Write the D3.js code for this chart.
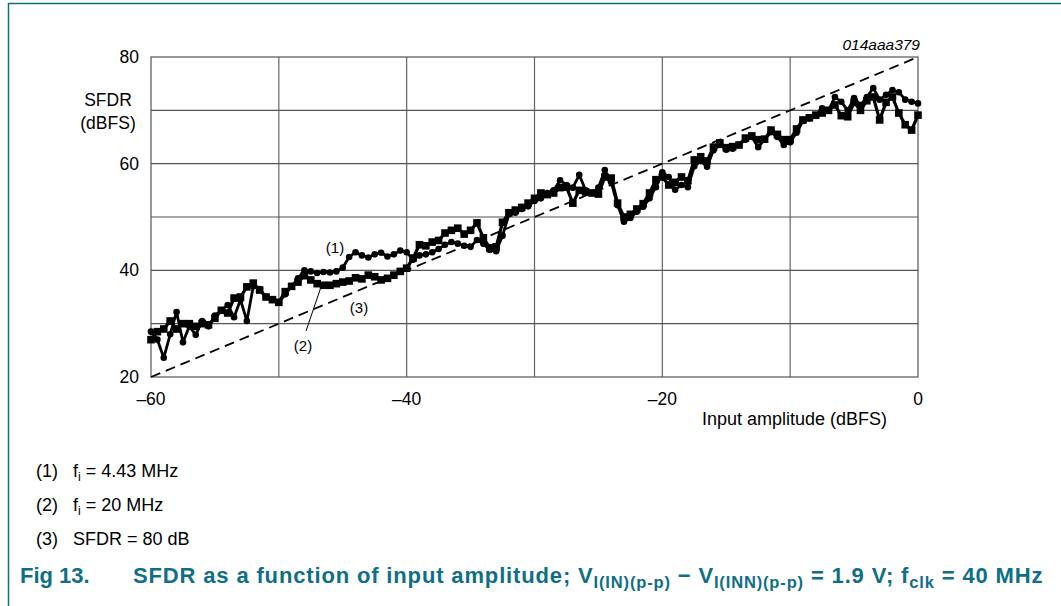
<!DOCTYPE html>
<html>
<head>
<meta charset="utf-8">
<script src="https://cdn.jsdelivr.net/npm/d3@7"></script>
<style>
  body { margin: 0; background: #fff; }
  svg text { font-family: "Liberation Sans", Arial, sans-serif; }
</style>
</head>
<body>
<div id="chart"></div>
<script>
// input amplitude (dBFS), 0.5 dB steps
var amplitude = [-60,-59.5,-59,-58.5,-58,-57.5,-57,-56.5,-56,-55.5,-55,-54.5,-54,-53.5,-53,-52.5,-52,-51.5,-51,-50.5,
  -50,-49.5,-49,-48.5,-48,-47.5,-47,-46.5,-46,-45.5,-45,-44.5,-44,-43.5,-43,-42.5,-42,-41.5,-41,-40.5,
  -40,-39.5,-39,-38.5,-38,-37.5,-37,-36.5,-36,-35.5,-35,-34.5,-34,-33.5,-33,-32.5,-32,-31.5,-31,-30.5,
  -30,-29.5,-29,-28.5,-28,-27.5,-27,-26.5,-26,-25.5,-25,-24.5,-24,-23.5,-23,-22.5,-22,-21.5,-21,-20.5,
  -20,-19.5,-19,-18.5,-18,-17.5,-17,-16.5,-16,-15.5,-15,-14.5,-14,-13.5,-13,-12.5,-12,-11.5,-11,-10.5,
  -10,-9.5,-9,-8.5,-8,-7.5,-7,-6.5,-6,-5.5,-5,-4.5,-4,-3.5,-3,-2.5,-2,-1.5,-1,-0.5,0];

// (1) fi = 4.43 MHz
var sfdr1 = [28.5,27,23.6,28,32.2,26.5,29.5,27.9,30.5,29.5,31.5,32.5,33.5,31.2,34.5,30.5,37,36.5,35,34.5,
  34,35.5,37,38.5,40,39.8,39.5,39.7,39.6,39.8,40.5,42.5,43.4,42.8,42.4,43,43.3,42.6,43,43.7,
  43.4,42,42.8,43,43.4,44,44.8,45.3,45,44.6,44.4,45.7,45,43.8,43.6,46.5,50.5,50.8,51.5,52,
  53,53.5,54.5,55,56.9,56,55.5,57.9,55,54.5,55.5,58.8,56.5,52.2,49.1,49.8,51,51.9,53.5,55.6,
  58.4,57.5,55.1,56,55.6,59.5,60.5,59.4,62.5,63.5,62.6,62.8,63.5,64.5,65,63.1,64.5,65.9,65,63.5,
  64,65.8,68,68.5,69,70.4,70,72.5,71.6,70,72.3,71,72.5,74.2,72,72.9,73.8,73.4,72,71.6,71.3];

// (2) fi = 20 MHz
var sfdr2 = [27,28.5,29,30.5,29,30,30,29.5,30,29.8,31,32.5,32,34.8,35,36.9,37.6,36.3,35,34.5,
  34,36,37,37.8,39,38.2,37.5,37.2,37.2,37.5,37.8,38,38.6,38.4,39.1,38.8,38.2,38.5,39.1,39.8,
  40.4,42.3,44.8,44.6,45.3,45.6,47,47.5,47.9,46.8,47.5,48.9,46.1,44.2,44.4,49,50.8,51.3,51.8,52.6,
  53.5,54.5,54.2,54.5,55.5,55.6,52.6,55,54.7,54.5,54.3,57.5,57.3,52.6,50,50.5,51.5,52.5,54.5,57,
  57.5,56,56.5,57.5,56.8,60.7,61.3,60.5,63.1,63.9,63,63.2,63.5,64.8,65.2,64.5,64.6,66.3,65.5,64.5,
  64.5,66.5,68.2,68.6,69.1,69.5,70,71,69,68.8,71.5,70,71.8,72.5,68.2,71.5,72.5,69.5,67.3,66.3,69.1];

// (3) SFDR = 80 dB reference line
var refLine = [[-60, 20], [0, 80]];

var xTicks = [-60, -40, -20, 0];
var yTicks = [20, 40, 60, 80];
var xGrid = [-50, -40, -30, -20, -10];
var yGrid = [30, 40, 50, 60, 70];

var svgWidth = 1061, svgHeight = 606;
var teal = "#0f6f87";

var svg = d3.select("#chart").append("svg")
    .attr("width", svgWidth)
    .attr("height", svgHeight);

// page frame
svg.append("line").attr("x1", 8).attr("y1", 3.5).attr("x2", svgWidth).attr("y2", 3.5)
    .style("stroke", teal).style("stroke-width", 1.5);
svg.append("line").attr("x1", 8.5).attr("y1", 3).attr("x2", 8.5).attr("y2", svgHeight)
    .style("stroke", teal).style("stroke-width", 1.5);

// plot area
var x = d3.scaleLinear().domain([-60, 0]).range([151, 918]);
var y = d3.scaleLinear().domain([20, 80]).range([377, 57]);

var g = svg.append("g");

// grid
g.selectAll(".vgrid").data(xGrid).enter().append("line")
    .attr("x1", d => x(d)).attr("x2", d => x(d))
    .attr("y1", y(20)).attr("y2", y(80))
    .style("stroke", "#666").style("stroke-width", 1.2);
g.selectAll(".hgrid").data(yGrid).enter().append("line")
    .attr("x1", x(-60)).attr("x2", x(0))
    .attr("y1", d => y(d)).attr("y2", d => y(d))
    .style("stroke", "#555").style("stroke-width", 1.2);
g.append("rect")
    .attr("x", x(-60)).attr("y", y(80))
    .attr("width", x(0) - x(-60)).attr("height", y(20) - y(80))
    .style("fill", "none").style("stroke", "#555").style("stroke-width", 1.2);

// tick labels
g.selectAll(".ylab").data(yTicks).enter().append("text")
    .attr("x", 139).attr("y", d => y(d))
    .attr("text-anchor", "end").attr("dy", "0.35em")
    .style("font-size", "17.5px")
    .text(d => d);
g.selectAll(".xlab").data(xTicks).enter().append("text")
    .attr("x", d => x(d)).attr("y", 405)
    .attr("text-anchor", "middle")
    .style("font-size", "17.5px")
    .text(d => d < 0 ? "\u2013" + Math.abs(d) : d);

// axis titles
svg.append("text").attr("x", 108).attr("y", 106).attr("text-anchor", "middle")
    .style("font-size", "17.5px").text("SFDR");
svg.append("text").attr("x", 108).attr("y", 129).attr("text-anchor", "middle")
    .style("font-size", "17.5px").text("(dBFS)");
svg.append("text").attr("x", 887).attr("y", 425).attr("text-anchor", "end")
    .style("font-size", "18px").text("Input amplitude (dBFS)");
svg.append("text").attr("x", 920).attr("y", 50).attr("text-anchor", "end")
    .style("font-size", "15.5px").style("font-style", "italic").text("014aaa379");

// (3) dashed reference
g.append("line")
    .attr("x1", x(refLine[0][0])).attr("y1", y(refLine[0][1]))
    .attr("x2", x(refLine[1][0])).attr("y2", y(refLine[1][1]))
    .style("stroke", "#000").style("stroke-width", 1.8)
    .style("stroke-dasharray", "10,6");

var line = d3.line().x(d => x(d[0])).y(d => y(d[1]));
var pts1 = amplitude.map((a, i) => [a, sfdr1[i]]);
var pts2 = amplitude.map((a, i) => [a, sfdr2[i]]);

// (2) squares
g.append("path").datum(pts2).attr("d", line)
    .style("fill", "none").style("stroke", "#000").style("stroke-width", 3.2)
    .style("stroke-linejoin", "round");
g.selectAll(".sq").data(pts2).enter().append("rect")
    .attr("x", d => x(d[0]) - 3.8).attr("y", d => y(d[1]) - 3.8)
    .attr("width", 7.6).attr("height", 7.6)
    .style("fill", "#000");

// (1) circles
g.append("path").datum(pts1).attr("d", line)
    .style("fill", "none").style("stroke", "#000").style("stroke-width", 2.8)
    .style("stroke-linejoin", "round");
g.selectAll(".dot").data(pts1).enter().append("circle")
    .attr("cx", d => x(d[0])).attr("cy", d => y(d[1]))
    .attr("r", 3.3)
    .style("fill", "#000");

// curve labels
svg.append("text").attr("x", 335).attr("y", 253).attr("text-anchor", "middle")
    .style("font-size", "15px").text("(1)");
svg.append("text").attr("x", 303).attr("y", 351).attr("text-anchor", "middle")
    .style("font-size", "15px").text("(2)");
svg.append("text").attr("x", 359).attr("y", 313).attr("text-anchor", "middle")
    .style("font-size", "15px").text("(3)");
svg.append("line").attr("x1", 306).attr("y1", 331).attr("x2", 322).attr("y2", 284)
    .style("stroke", "#000").style("stroke-width", 1);

// legend notes
var notes = [["(1)", "4.43 MHz", true], ["(2)", "20 MHz", true], ["(3)", "SFDR = 80 dB", false]];
notes.forEach(function(n, i) {
  var ty = 477 + i * 34;
  svg.append("text").attr("x", 36).attr("y", ty).style("font-size", "18px").text(n[0]);
  var t = svg.append("text").attr("x", 73).attr("y", ty).style("font-size", "18px");
  if (n[2]) {
    t.append("tspan").text("f");
    t.append("tspan").attr("dy", 4).style("font-size", "12.5px").text("i");
    t.append("tspan").attr("dy", -4).text(" = " + n[1]);
  } else {
    t.text(n[1]);
  }
});

// caption
svg.append("text").attr("x", 20).attr("y", 583)
    .style("font-size", "22px").style("font-weight", "bold").style("fill", teal)
    .text("Fig 13.");
var cap = svg.append("text").attr("x", 133).attr("y", 583)
    .style("font-size", "22px").style("font-weight", "bold").style("fill", teal)
    .style("letter-spacing", "0.85px");
cap.append("tspan").text("SFDR as a function of input amplitude; V");
cap.append("tspan").attr("dy", 5).style("font-size", "16.5px").text("I(IN)(p-p)");
cap.append("tspan").attr("dy", -5).text(" \u2212 V");
cap.append("tspan").attr("dy", 5).style("font-size", "16.5px").text("I(INN)(p-p)");
cap.append("tspan").attr("dy", -5).text(" = 1.9 V; f");
cap.append("tspan").attr("dy", 5).style("font-size", "16.5px").text("clk");
cap.append("tspan").attr("dy", -5).text(" = 40 MHz");
</script>
</body>
</html>
